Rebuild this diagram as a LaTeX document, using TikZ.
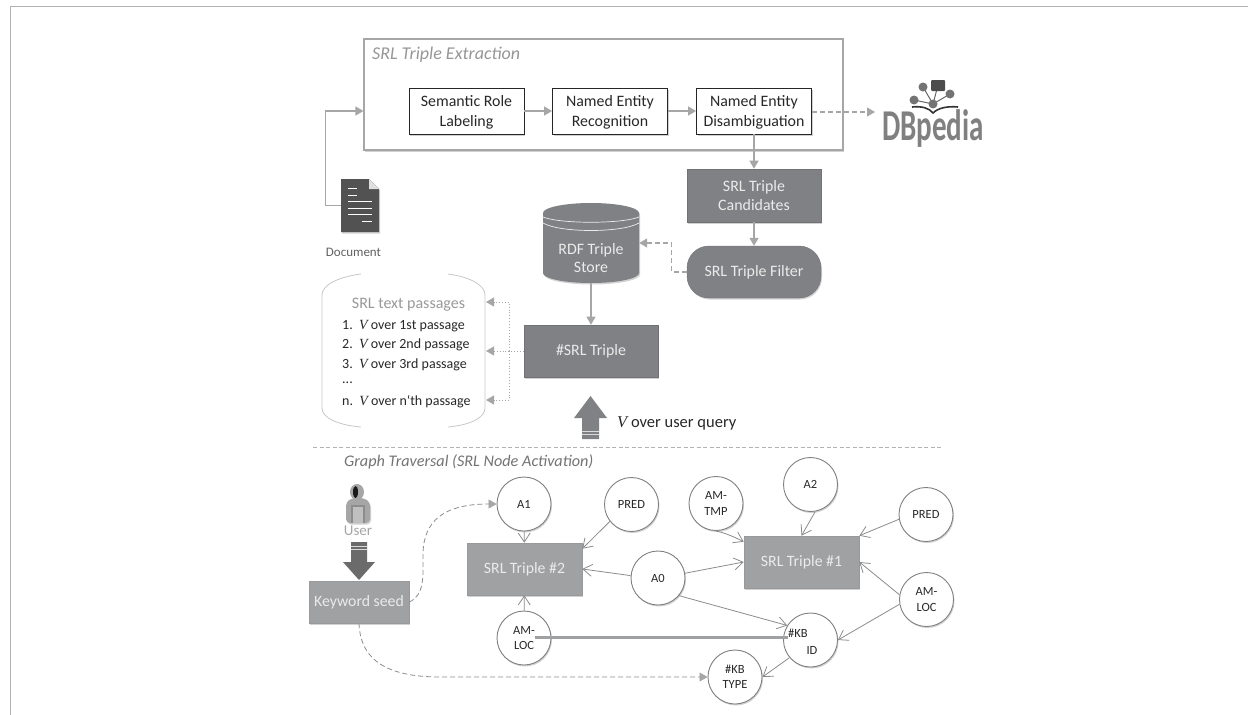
\documentclass[tikz,border=0pt]{standalone}
\usepackage{fontspec}
\setmainfont{Carlito}
\newfontfamily\symfont{Liberation Serif}
\usetikzlibrary{arrows.meta,shadows,calc}
\definecolor{dk}{RGB}{128,129,132}
\definecolor{md}{RGB}{160,161,163}
\definecolor{ln}{RGB}{166,166,168}
\definecolor{lbl}{RGB}{150,150,152}
\definecolor{txt}{RGB}{40,40,40}
\newcommand{\Vv}{{\symfont\itshape V}}
\tikzset{
  x=1pt,y=-1pt,
  softshadow/.style={drop shadow={shadow xshift=1pt,shadow yshift=-1.5pt,opacity=.18,fill=black}},
  wbox/.style={draw=black!85,line width=.9pt,fill=white,minimum width=115pt,minimum height=46pt,align=center,font=\fontsize{15.9}{20}\selectfont,text=txt,inner sep=0pt,text depth=-1pt,softshadow},
  dbox/.style={draw=black!12!dk,line width=.6pt,fill=dk,align=center,font=\fontsize{15.9}{19}\selectfont,text=white!92!black,inner sep=0pt,softshadow},
  mbox/.style={draw=black!5!md,line width=.6pt,fill=md,align=center,font=\fontsize{15.8}{19}\selectfont,text=white!92!black,inner sep=0pt,softshadow},
  circ/.style={circle,draw=black!50,line width=.9pt,fill=white,minimum size=54pt,inner sep=0pt,align=center,font=\fontsize{12.5}{15.5}\selectfont,text=txt,softshadow},
  flow/.style={draw=ln,line width=1.2pt,-{Triangle[length=8pt,width=9pt,ln]}},
  dflow/.style={flow,dash pattern=on 5pt off 3pt},
  dotflow/.style={flow,line width=.9pt,dotted},
  openflow/.style={draw=black!45,line width=.8pt,-{Straight Barb[length=9pt,width=12pt,black!45]}},
  thinflow/.style={draw=black!45,line width=.8pt,dash pattern=on 5pt off 3pt,-{Triangle[length=8pt,width=9pt,ln]}},
  passtext/.style={anchor=west,font=\fontsize{14}{17}\selectfont,text=txt,inner sep=0pt},
}
\begin{document}
\begin{tikzpicture}
\useasboundingbox (0,0) rectangle (1248,715);
\fill[white] (0,0) rectangle (1248,715);
% page frame
\draw[black!30,line width=1.6pt] (10.5,715) -- (10.5,6.5) -- (1248,6.5);
% extraction container
\node[draw=black!35,line width=1.1pt,fill=white,minimum width=479pt,minimum height=111pt,inner sep=0pt,softshadow] (ext) at (603.5,94.5) {};
\node[anchor=west,inner sep=0pt,font=\fontsize{18}{20}\selectfont\itshape,text=lbl] (extl) at (372,55) {SRL Triple Extraction};
\node[wbox] (srl) at (466.5,111) {Semantic Role\\Labeling};
\node[wbox] (ner) at (610,111) {Named Entity\\Recognition};
\node[wbox] (ned) at (754,111) {Named Entity\\Disambiguation};
\draw[flow] (srl) -- (ner);
\draw[flow] (ner) -- (ned);
% DBpedia logo
\coordinate (dbp) at (875,112);
\begin{scope}
  \draw[black!60,line width=1pt] (914,100)--(933,104)--(938,85) (923,87)--(933,104)--(950,94);
  \fill[black!70,rounded corners=1pt] (931,80) rectangle (945,91);
  \fill[black!55] (923,87) circle (4.5pt) (914,100) circle (4.5pt) (933,104) circle (4.5pt) (950,94) circle (4.5pt);
  \draw[black!80,line width=1.6pt] (912,107) .. controls (922,106) and (929,108) .. (933,113) .. controls (938,108) and (947,106) .. (958,107);
\end{scope}
\node[font=\fontsize{44}{44}\selectfont\bfseries,text=black!50,inner sep=0pt,xscale=.66] (dbl) at (933,129) {DBpedia};
\draw[dflow] (ned.east |- dbp) -- (dbp);
% middle column
\node[dbox,minimum width=134pt,minimum height=53pt] (cand) at (754,195.5) {SRL Triple\\Candidates};
\node[draw=black!12!dk,fill=dk,rounded corners=22pt,minimum width=134pt,minimum height=52pt,inner sep=0pt,font=\fontsize{15.9}{19}\selectfont,text=white!92!black,softshadow] (filt) at (754,272) {SRL Triple Filter};
\draw[flow] (ned) -- (cand);
\draw[flow] (cand) -- (filt);
% cylinder
\path[fill=dk,softshadow] (543,213) .. controls (543,207.5) and (564.5,203) .. (591,203) .. controls (617.5,203) and (639,207.5) .. (639,213) -- (639,273) .. controls (639,278.5) and (617.5,283) .. (591,283) .. controls (564.5,283) and (543,278.5) .. (543,273) -- cycle;
\draw[white!85!dk,line width=.7pt] (543,217) .. controls (560,224) and (622,224) .. (639,217);
\draw[white!85!dk,line width=.7pt] (543,223) .. controls (560,233) and (622,233) .. (639,223);
\node[minimum width=96pt,minimum height=80pt,inner sep=0pt] (store) at (591,243) {};
\node[align=center,font=\fontsize{15.9}{18}\selectfont,text=white!92!black,inner sep=0pt] (storel) at (591,258) {RDF Triple\\Store};
\draw[dflow] (filt.west) -- ++(-15,0) |- (store.east);
% SRL triple
\node[dbox,minimum width=134pt,minimum height=52pt] (hash) at (591,351) {\#SRL Triple};
\draw[flow] (store) -- (hash);
% document icon
\path[fill=black!68,softshadow] (341,179) -- (369,179) -- (379,189) -- (379,232) -- (341,232) -- cycle;
\fill[black!12] (369,179) -- (379,189) -- (369,189) -- cycle;
\draw[white,line width=.8pt] (348,188) -- (357,188) (348,195) -- (357,195) (348,201) -- (372,201) (348,208) -- (372,208) (348,214) -- (372,214) (362,221) -- (372,221);
\node[minimum width=38pt,minimum height=53pt,inner sep=0pt] (doc) at (360,205.5) {};
\node[font=\fontsize{13}{15}\selectfont,text=black!62,inner sep=0pt] (docl) at (353.5,252) {Document};
\draw[flow] (doc.west) -- ++(-15,0) |- (ext.west |- srl);
% passages
\draw[black!22,line width=.8pt] (361,274) .. controls (338,277) and (322,285) .. (322,295) -- (322,408) .. controls (322,418) and (338,425) .. (361,427);
\draw[black!22,line width=.8pt] (448,274) .. controls (470,277) and (485,285) .. (485,295) -- (485,408) .. controls (485,418) and (470,425) .. (448,427);
\coordinate (p1) at (486,302);
\coordinate (p2) at (486,351);
\coordinate (p3) at (486,400);
\coordinate (dj) at (509,351);
\node[font=\fontsize{16}{18}\selectfont,text=black!40,inner sep=0pt] (ph) at (408.5,305) {SRL text passages};
\node[passtext] (l1) at (342,326) {1.\ \ \Vv\ over 1st passage};
\node[passtext] (l2) at (342,345) {2.\ \ \Vv\ over 2nd passage};
\node[passtext] (l3) at (342,365) {3.\ \ \Vv\ over 3rd passage};
\node[passtext] (l4) at (342,383) {...};
\node[passtext] (l5) at (342,402) {n.\ \ \Vv\ over n‘th passage};
\draw[dotflow] (hash.west) -- (p2);
\draw[dotflow] (dj) |- (p1);
\draw[dotflow] (dj) |- (p3);
% big up arrow
\fill[dk] (590.5,396) -- (607,418) -- (599,418) -- (599,439) -- (582,439) -- (582,418) -- (574,418) -- cycle;
\draw[white!70!dk,line width=.7pt] (582,431) -- (599,431) (582,434.5) -- (599,434.5);
\node[anchor=west,font=\fontsize{16.5}{19}\selectfont,text=txt,inner sep=0pt] (vq) at (617,423) {\Vv\ over user query};
% separator
\coordinate (s1) at (313,447);
\coordinate (s2) at (943,447);
\draw[black!30,line width=.9pt,dash pattern=on 4pt off 2.5pt] (s1) -- (s2);
\node[anchor=west,font=\fontsize{16.2}{18}\selectfont\itshape,text=black!55,inner sep=0pt] (gt) at (344,462) {Graph Traversal (SRL Node Activation)};
% user
\fill[black!35,rounded corners=4pt,softshadow] (346,523) -- (346,502) -- (352,498) -- (364,498) -- (370,502) -- (370,523) -- cycle;
\fill[black!45] (351,505) rectangle (365,523);
\fill[black!25] (353,507) rectangle (363,523);
\fill[black!35] (357,492) ellipse [x radius=7pt,y radius=8pt];
\fill[black!90] (355.5,492) ellipse [x radius=2.5pt,y radius=6pt];
\node[font=\fontsize{15}{18}\selectfont,text=black!35,inner sep=0pt] (ul) at (358,531) {User};
% big down arrow
\fill[black!58] (359,580) -- (375,562) -- (367,562) -- (367,542) -- (351,542) -- (351,562) -- (343,562) -- cycle;
\draw[white!70!dk,line width=.7pt] (351,546) -- (367,546) (351,549.5) -- (367,549.5);
% graph
\node[mbox,minimum width=100pt,minimum height=42pt] (kw) at (359,602) {Keyword seed};
\node[mbox,minimum width=115pt,minimum height=52pt] (t2) at (524.5,569) {SRL Triple \#2};
\node[mbox,minimum width=115pt,minimum height=52pt] (t1) at (801.5,562) {SRL Triple \#1};
\node[circ] (a1) at (524,504) {A1};
\node[circ] (p2c) at (631.5,504.5) {PRED};
\node[circ] (amloc2) at (524,638) {AM-\\LOC};
\node[circ] (a0) at (658,578) {A0};
\node[circ] (tmp) at (716,503.5) {AM-\\TMP};
\node[circ] (a2) at (810.5,484.5) {A2};
\node[circ] (p1c) at (926,514.5) {PRED};
\node[circ] (amloc1) at (926.5,599.5) {AM-\\LOC};
\node[circ] (kbid) at (810.5,640) {};
\node[font=\fontsize{12.5}{15}\selectfont,text=txt,inner sep=0pt] (kb1) at (798,633) {\#KB};
\node[font=\fontsize{12.5}{15}\selectfont,text=txt,inner sep=0pt] (kb2) at (812,650) {ID};
\node[circ] (kbt) at (735,677) {\#KB\\TYPE};
\draw[openflow] (a1) -- (t2);
\draw[openflow] (p2c.218) -- ($(t2.north east)+(0,6)$);
\draw[openflow] (amloc2) -- (t2);
\draw[openflow] (a0.175) -- (t2.east);
\draw[openflow] (a0.10) -- (t1.west);
\draw[openflow] (a0.-40) -- (kbid.148);
\draw[openflow] (tmp.270) .. controls ($(tmp.270)+(8,2)$) and ($(t1.north west)+(-14,-1)$) .. ($(t1.north west)+(0,6)$);
\draw[openflow] (a2.-80) -- (t1.north);
\draw[openflow] (p1c.190) -- (t1.north east);
\draw[openflow] (amloc1.170) -- (t1.east);
\draw[openflow] (amloc1.190) -- (kbid.east);
\draw[openflow] (kbid.220) -- (kbt.east);
\draw[md,line width=3pt] (535,637) -- (788,637);
\draw[thinflow] (kw.east) .. controls (425,595) and (423,575) .. (423,555) .. controls (423,520) and (445,504) .. (a1.west);
\draw[thinflow] (kw.south) .. controls (360,655) and (380,677) .. (440,677) -- (kbt.west);
\end{tikzpicture}
\end{document}
